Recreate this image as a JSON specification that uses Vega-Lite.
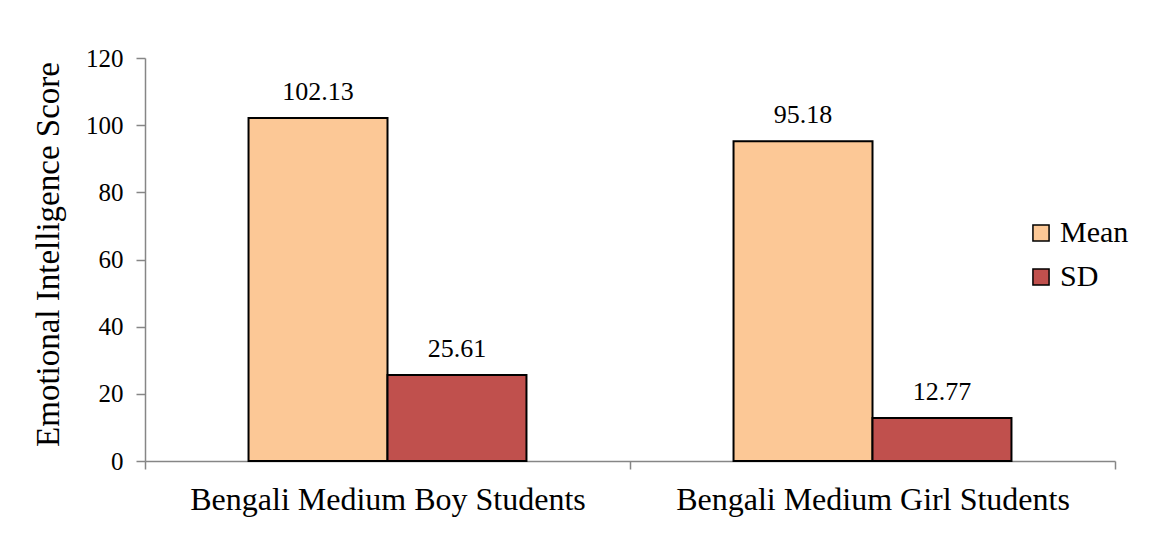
{
  "$schema": "https://vega.github.io/schema/vega-lite/v6.json",
  "width": 970,
  "height": 403,
  "autosize": {"type": "none"},
  "padding": {"left": 145, "top": 58, "right": 48, "bottom": 76},
  "background": "white",
  "config": {
    "view": {"stroke": null},
    "font": "Liberation Serif",
    "axis": {"labelFont": "Liberation Serif", "titleFont": "Liberation Serif", "labelColor": "black", "titleColor": "black", "domainColor": "#868686", "tickColor": "#868686", "grid": false, "titleFontWeight": "normal"},
    "legend": {"labelFont": "Liberation Serif"},
    "text": {"font": "Liberation Serif"}
  },
  "data": {
    "values": [
      {"group": "Bengali Medium Boy Students", "series": "Mean", "value": 102.13},
      {"group": "Bengali Medium Boy Students", "series": "SD", "value": 25.61},
      {"group": "Bengali Medium Girl Students", "series": "Mean", "value": 95.18},
      {"group": "Bengali Medium Girl Students", "series": "SD", "value": 12.77}
    ]
  },
  "encoding": {
    "x": {
      "field": "group", "type": "nominal", "sort": null,
      "scale": {"paddingInner": 0, "paddingOuter": 0},
      "axis": {"title": null, "labelAngle": 0, "labelFontSize": 32, "labelLimit": 0, "labelPadding": 15, "tickBand": "extent", "tickSize": 8, "domainWidth": 1.5, "tickWidth": 1.5}
    },
    "xOffset": {"field": "series", "type": "nominal", "sort": ["Mean", "SD"], "scale": {"paddingOuter": 0.745, "paddingInner": 0}},
    "y": {
      "field": "value", "type": "quantitative",
      "scale": {"domain": [0, 120]},
      "axis": {"title": "Emotional Intelligence Score", "titleFontSize": 33, "titlePadding": 20, "titleY": 196, "labelFontSize": 25, "labelPadding": 13, "values": [0, 20, 40, 60, 80, 100, 120], "tickSize": 9, "domainWidth": 1.5, "tickWidth": 1.5}
    }
  },
  "layer": [
    {
      "mark": {"type": "bar", "stroke": "black", "strokeWidth": 2},
      "encoding": {
        "color": {
          "field": "series", "type": "nominal", "sort": ["Mean", "SD"],
          "scale": {"domain": ["Mean", "SD"], "range": ["#FCC896", "#C0504D"]},
          "legend": {
            "title": null, "orient": "none", "legendX": 881, "legendY": 160,
            "symbolType": "square", "symbolSize": 260, "symbolStrokeWidth": 1.5, "symbolOpacity": 1,
            "labelFontSize": 30, "labelLimit": 0, "rowPadding": 14, "labelOffset": 4,
            "encode": {"symbols": {"update": {"stroke": {"signal": "datum.value === 'SD' ? 'black' : 'transparent'"}}}}
          }
        }
      }
    },
    {
      "mark": {"type": "text", "baseline": "bottom", "dy": -13, "fontSize": 26, "color": "black"},
      "encoding": {"text": {"field": "value", "type": "quantitative", "format": ".2f"}}
    }
  ]
}
